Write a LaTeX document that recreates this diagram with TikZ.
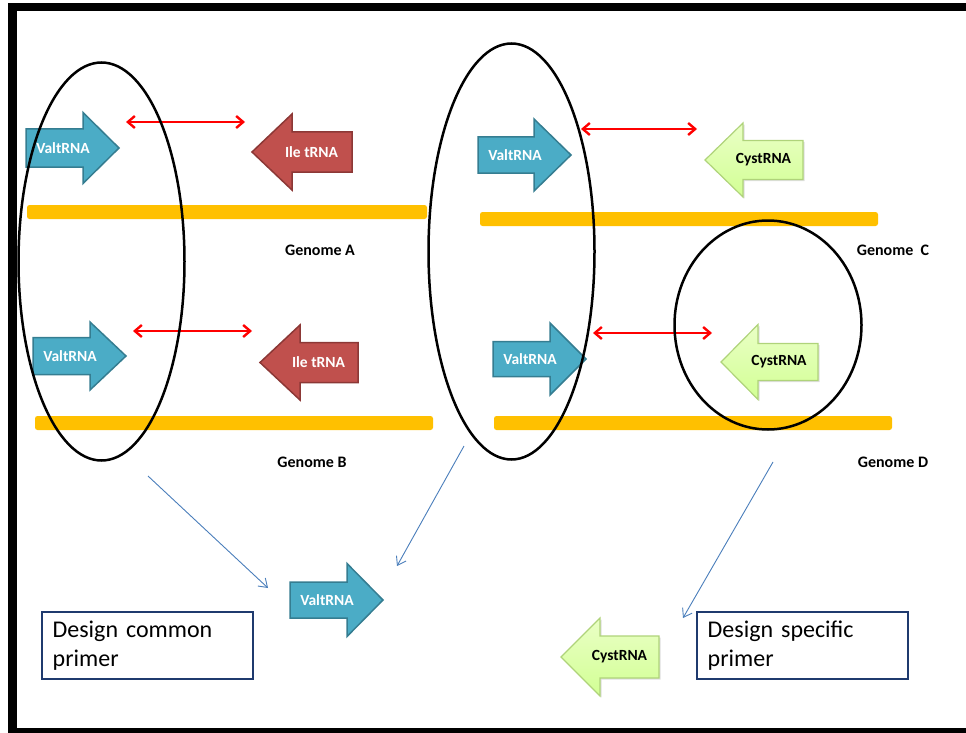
\documentclass[tikz,border=0pt]{standalone}
\usepackage{fontspec}
\setmainfont{Carlito}
\usetikzlibrary{arrows.meta,shapes.geometric,shadows}

\definecolor{valfill}{HTML}{4BACC6}
\definecolor{valedge}{HTML}{357D91}
\definecolor{ilefill}{HTML}{C0504D}
\definecolor{ileedge}{HTML}{8C3836}
\definecolor{cystop}{HTML}{EAFFC6}
\definecolor{cysbot}{HTML}{D2FF94}
\definecolor{cysedge}{HTML}{AFD37A}
\definecolor{genomebar}{HTML}{FFC000}
\definecolor{linkblue}{HTML}{4A7EBB}
\definecolor{boxedge}{HTML}{1F3A6E}

\tikzset{
  valarrow/.style={fill=valfill, draw=valedge, line width=1.5pt},
  ilearrow/.style={fill=ilefill, draw=ileedge, line width=1.5pt},
  cysarrow/.style={top color=cystop, bottom color=cysbot, draw=cysedge, line width=1.2pt,
    drop shadow={shadow xshift=1.5pt, shadow yshift=-1.5pt, opacity=0.25}},
  valarrowtext/.style={font=\bfseries\fontsize{15.5}{18}\selectfont, text=white, inner sep=0},
  ilearrowtext/.style={valarrowtext},
  cysarrowtext/.style={font=\bfseries\fontsize{15.5}{18}\selectfont, text=black, inner sep=0},
  genomebarstyle/.style={fill=genomebar, rounded corners=2.5pt},
  genomelabel/.style={font=\bfseries\fontsize{16}{19}\selectfont, inner sep=0},
  pairlink/.style={draw=red, line width=2.4pt, {Straight Barb[length=7pt,width=12pt]}-{Straight Barb[length=7pt,width=12pt]}},
  bluelink/.style={draw=linkblue, line width=0.9pt, -{Straight Barb[length=8pt,width=11pt]}},
  ring/.style={ellipse, draw=black, line width=2.5pt, inner sep=0, fill=none},
  primerbox/.style={draw=boxedge, line width=1.1pt, fill=white, inner sep=0,
    minimum width=211pt, minimum height=67pt},
  primertext/.style={align=left, inner sep=0, text width=189pt, anchor=base west,
    font=\fontsize{24}{29}\selectfont},
}

% right-pointing gene: name, style, tail x, head base x, tip x, centre y, body half, head half, label
\newcommand\geneR[9]{%
  \path[#2] (#3,#6-#7) -- (#4,#6-#7) -- (#4,#6-#8) -- (#5,#6) -- (#4,#6+#8) -- (#4,#6+#7) -- (#3,#6+#7) -- cycle;
  \node[#2text] (#1) at ({(#3+#5)/2-9.5},#6) {#9};
}
% left-pointing gene: name, style, tip x, head base x, tail x, centre y, body half, head half, label
\newcommand\geneL[9]{%
  \path[#2] (#5,#6-#7) -- (#4,#6-#7) -- (#4,#6-#8) -- (#3,#6) -- (#4,#6+#8) -- (#4,#6+#7) -- (#5,#6+#7) -- cycle;
  \node[#2text] (#1) at ({(#3+#5)/2+9.5},#6) {#9};
}

\begin{document}
\begin{tikzpicture}[x=1pt,y=-1pt]
\useasboundingbox (0,0) rectangle (966,733);

% frame
\fill[black] (8,3) rectangle (17,733);
\fill[black] (8,3) rectangle (966,11);
\fill[black] (8,728) rectangle (966,733);

% genome strands
\path[genomebarstyle] (27,205) rectangle (427,219);
\path[genomebarstyle] (35,416) rectangle (433,430);
\path[genomebarstyle] (480,212) rectangle (878,226);
\path[genomebarstyle] (494,416) rectangle (892,430);

\node[genomelabel] (gA) at (320,250) {Genome A};
\node[genomelabel] (gB) at (312,462) {Genome B};
\node[genomelabel] (gC) at (893,250) {Genome\ \ C};
\node[genomelabel] (gD) at (893,462) {Genome D};

% genes, genome A
\geneR{valA}{valarrow}{26}{83}{119}{148}{19}{35.5}{ValtRNA}
\geneL{ileA}{ilearrow}{252}{292}{352}{152}{20}{38}{Ile tRNA}
% genome B
\geneR{valB}{valarrow}{33}{90}{126}{356}{18.5}{34}{ValtRNA}
\geneL{ileB}{ilearrow}{260}{300}{358}{362.5}{20}{37.5}{Ile tRNA}
% genome C
\geneR{valC}{valarrow}{478}{534}{571}{155}{18}{36}{ValtRNA}
\geneL{cysC}{cysarrow}{705}{743}{803}{160}{19.5}{37}{CystRNA}
% genome D
\geneR{valD}{valarrow}{493}{550}{586}{359}{17.5}{36}{ValtRNA}
\geneL{cysD}{cysarrow}{721}{758}{818}{362}{18.5}{37.5}{CystRNA}

% spacing between neighbouring genes
\coordinate (pA1) at (126,122); \coordinate (pA2) at (245,122);
\coordinate (pB1) at (133,331); \coordinate (pB2) at (252,331);
\coordinate (pC1) at (581,129); \coordinate (pC2) at (697,129);
\coordinate (pD1) at (593,333); \coordinate (pD2) at (712,333);
\draw[pairlink] (pA1) -- (pA2);
\draw[pairlink] (pB1) -- (pB2);
\draw[pairlink] (pC1) -- (pC2);
\draw[pairlink] (pD1) -- (pD2);

% groupings
\node[ring, minimum width=166pt, minimum height=398pt] (leftset) at (101.5,261.5) {};
\node[ring, minimum width=166pt, minimum height=416pt] (midset) at (511.5,251.5) {};
\node[ring, minimum width=187pt, minimum height=209pt] (cysset) at (768,325) {};

% resulting primer targets
\geneR{valP}{valarrow}{290}{347}{383}{600}{18}{36.5}{ValtRNA}
\geneL{cysP}{cysarrow}{561}{600}{659}{657}{21}{39}{CystRNA}

\coordinate (l1s) at (148,476); \coordinate (l1e) at (268,588);
\coordinate (l2s) at (464,446); \coordinate (l2e) at (397,566);
\coordinate (l3s) at (773,462); \coordinate (l3e) at (683,618);
\draw[bluelink] (l1s) -- (l1e);
\draw[bluelink] (l2s) -- (l2e);
\draw[bluelink] (l3s) -- (l3e);

% design notes
\node[primerbox] (common) at (147.5,645.5) {};
\node[primertext] (commontext) at ([xshift=11pt,yshift=-26pt]common.north west) {Design common\\primer};
\node[primerbox] (specific) at (802.5,645.5) {};
\node[primertext] (specifictext) at ([xshift=11pt,yshift=-26pt]specific.north west) {Design specific\\primer};
\end{tikzpicture}
\end{document}
